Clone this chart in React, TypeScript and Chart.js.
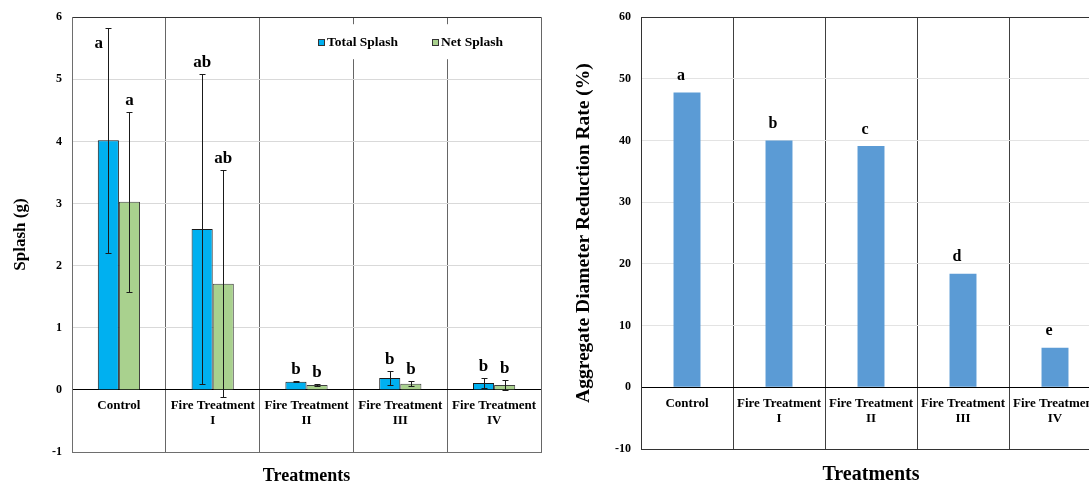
import React, { useEffect, useRef } from 'react';
import { Chart, registerables } from 'chart.js';

Chart.register(...registerables);

// ---------- data ----------
const CATEGORIES = [
  'Control',
  'Fire Treatment\nI',
  'Fire Treatment\nII',
  'Fire Treatment\nIII',
  'Fire Treatment\nIV',
];

const TOTAL_SPLASH = [4.02, 2.59, 0.13, 0.19, 0.11];
const TOTAL_SPLASH_ERR = [1.81, 2.5, 0.01, 0.11, 0.08];
const TOTAL_SPLASH_LETTERS = ['a', 'ab', 'b', 'b', 'b'];

const NET_SPLASH = [3.03, 1.71, 0.08, 0.1, 0.08];
const NET_SPLASH_ERR = [1.45, 1.83, 0.01, 0.04, 0.08];
const NET_SPLASH_LETTERS = ['a', 'ab', 'b', 'b', 'b'];

const SPLASH_AXIS = { min: -1, max: 6, step: 1 };

const REDUCTION_RATE = [47.8, 40.0, 39.1, 18.4, 6.4];
const REDUCTION_LETTERS = ['a', 'b', 'c', 'd', 'e'];

const REDUCTION_AXIS = { min: -10, max: 60, step: 10 };

// ---------- style ----------
const FONT = "'Liberation Serif', 'Times New Roman', serif";
const W = 1089;
const H = 484;

function drawCategoryLabels(chart: any, size: number, first: number, step: number) {
  const { ctx } = chart;
  const xs = chart.scales.x;
  const ys = chart.scales.y;
  const y0 = ys.getPixelForValue(0);
  ctx.save();
  ctx.font = `bold ${size}px ${FONT}`;
  ctx.fillStyle = '#000';
  ctx.textAlign = 'center';
  ctx.textBaseline = 'middle';
  (chart.data.labels as string[]).forEach((lab, i) => {
    const cx = xs.getPixelForValue(i);
    String(lab)
      .split('\n')
      .forEach((line, j) => ctx.fillText(line, cx, y0 + first + j * step));
  });
  ctx.restore();
}

function SplashChart() {
  const ref = useRef<HTMLCanvasElement>(null);
  useEffect(() => {
    const canvas = ref.current!;
    const errorAndLetters = {
      id: 'errorAndLetters',
      afterDatasetsDraw(chart: any) {
        const { ctx, chartArea } = chart;
        const ys = chart.scales.y;
        ctx.save();
        chart.data.datasets.forEach((ds: any, di: number) => {
          const meta = chart.getDatasetMeta(di);
          meta.data.forEach((bar: any, i: number) => {
            const v = ds.data[i];
            const e = ds.errors[i];
            const top = Math.round(ys.getPixelForValue(v + e)) + 0.5;
            const bot = Math.round(ys.getPixelForValue(v - e)) + 0.5;
            const x = Math.round(bar.x) + 0.5;
            ctx.strokeStyle = '#1a1a1a';
            ctx.lineWidth = 1;
            ctx.beginPath();
            ctx.moveTo(x, top);
            ctx.lineTo(x, bot);
            ctx.moveTo(x - 3, top);
            ctx.lineTo(x + 3, top);
            ctx.moveTo(x - 3, bot);
            ctx.lineTo(x + 3, bot);
            ctx.stroke();
            // significance letters
            ctx.font = `bold 17px ${FONT}`;
            ctx.fillStyle = '#000';
            ctx.textAlign = 'center';
            ctx.textBaseline = 'alphabetic';
            let lx = bar.x;
            let ly = top - 7.5;
            if (ly - 14 < chartArea.top + 4) {
              lx = bar.x - 9.5;
              ly = top + 19;
            }
            ctx.fillText(ds.letters[i], lx, ly);
          });
        });
        ctx.restore();
      },
    };
    const labelsAndLegend = {
      id: 'labelsAndLegend',
      afterDraw(chart: any) {
        drawCategoryLabels(chart, 13, 16, 15);
        const { ctx, chartArea } = chart;
        ctx.save();
        ctx.font = `bold 13.5px ${FONT}`;
        const items = chart.data.datasets.map((ds: any) => ({
          label: ds.label as string,
          color: ds.backgroundColor as string,
          w: ctx.measureText(ds.label).width,
        }));
        const box = 6;
        const gapBox = 3;
        const gapItem = 34;
        const total =
          items.reduce((s: number, it: any) => s + box + gapBox + it.w, 0) + gapItem * (items.length - 1);
        const endX = chartArea.right - 38;
        let x = endX - total;
        const cy = chartArea.top + 25;
        ctx.fillStyle = '#fff';
        ctx.fillRect(x - 10, chartArea.top + 7, total + 20, 35);
        items.forEach((it: any) => {
          const bx = Math.round(x) + 0.5;
          const by = Math.round(cy - box / 2) + 0.5;
          ctx.fillStyle = it.color;
          ctx.fillRect(bx, by, box, box);
          ctx.strokeStyle = '#333';
          ctx.lineWidth = 1;
          ctx.strokeRect(bx, by, box, box);
          ctx.fillStyle = '#000';
          ctx.textAlign = 'left';
          ctx.textBaseline = 'middle';
          ctx.fillText(it.label, x + box + gapBox, cy);
          x += box + gapBox + it.w + gapItem;
        });
        ctx.restore();
      },
    };

    const chart = new Chart(canvas, {
      type: 'bar',
      data: {
        labels: CATEGORIES,
        datasets: [
          {
            label: 'Total Splash',
            data: TOTAL_SPLASH,
            errors: TOTAL_SPLASH_ERR,
            letters: TOTAL_SPLASH_LETTERS,
            backgroundColor: '#00B0F0',
            borderColor: '#1a1a1a',
            borderWidth: 1,
          } as any,
          {
            label: 'Net Splash',
            data: NET_SPLASH,
            errors: NET_SPLASH_ERR,
            letters: NET_SPLASH_LETTERS,
            backgroundColor: '#A9D18E',
            borderColor: '#404040',
            borderWidth: 1,
          } as any,
        ],
      },
      options: {
        animation: false,
        responsive: false,
        devicePixelRatio: 1,
        layout: { padding: { left: 0, right: 9, top: 15, bottom: 0 } },
        datasets: { bar: { categoryPercentage: 0.45, barPercentage: 1.0 } },
        plugins: { legend: { display: false }, tooltip: { enabled: false } },
        scales: {
          x: {
            grid: { offset: true, color: '#666', lineWidth: 1, drawTicks: false },
            border: { color: '#6e6e6e' },
            ticks: { display: false },
            title: {
              display: true,
              text: 'Treatments',
              color: '#000',
              font: { family: FONT, size: 18, weight: 'bold', lineHeight: 1 },
              padding: { top: 0, bottom: -1 },
            },
            afterFit: (s: any) => {
              s.height = 32;
            },
          },
          y: {
            min: SPLASH_AXIS.min,
            max: SPLASH_AXIS.max,
            ticks: {
              stepSize: SPLASH_AXIS.step,
              padding: 10,
              color: '#000',
              font: { family: FONT, size: 12, weight: 'bold' },
            },
            grid: {
              drawTicks: false,
              color: (c: any) =>
                c.tick.value === 0
                  ? '#000'
                  : c.tick.value === SPLASH_AXIS.max
                  ? '#333'
                  : c.tick.value === SPLASH_AXIS.min
                  ? '#6e6e6e'
                  : '#d9d9d9',
            },
            border: { color: '#6e6e6e' },
            title: {
              display: true,
              text: 'Splash (g)',
              color: '#000',
              font: { family: FONT, size: 17, weight: 'bold' },
              padding: { top: 10, bottom: 0 },
            },
            afterFit: (s: any) => {
              s.width = 72;
            },
          },
        },
      } as any,
      plugins: [errorAndLetters, labelsAndLegend],
    });
    return () => chart.destroy();
  }, []);
  return <canvas ref={ref} width={550} height={H} style={{ width: 550, height: H, display: 'block' }} />;
}

function ReductionChart() {
  const ref = useRef<HTMLCanvasElement>(null);
  useEffect(() => {
    const canvas = ref.current!;
    const lettersAndLabels = {
      id: 'lettersAndLabels',
      afterDatasetsDraw(chart: any) {
        const { ctx } = chart;
        const meta = chart.getDatasetMeta(0);
        ctx.save();
        ctx.font = `bold 16px ${FONT}`;
        ctx.fillStyle = '#000';
        ctx.textAlign = 'center';
        ctx.textBaseline = 'alphabetic';
        meta.data.forEach((bar: any, i: number) => {
          ctx.fillText(REDUCTION_LETTERS[i], bar.x - 6, bar.y - 12.5);
        });
        ctx.restore();
      },
      afterDraw(chart: any) {
        drawCategoryLabels(chart, 13, 16, 15);
      },
    };
    const chart = new Chart(canvas, {
      type: 'bar',
      data: {
        labels: CATEGORIES,
        datasets: [
          {
            label: 'Aggregate Diameter Reduction Rate',
            data: REDUCTION_RATE,
            backgroundColor: '#5B9BD5',
            borderWidth: 0,
          },
        ],
      },
      options: {
        animation: false,
        responsive: false,
        devicePixelRatio: 1,
        layout: { padding: { left: 0, right: 19, top: 15, bottom: 0 } },
        datasets: { bar: { categoryPercentage: 0.293, barPercentage: 1.0 } },
        plugins: { legend: { display: false }, tooltip: { enabled: false } },
        scales: {
          x: {
            grid: { offset: true, color: '#404040', lineWidth: 1, drawTicks: false },
            border: { color: '#333' },
            ticks: { display: false },
            title: {
              display: true,
              text: 'Treatments',
              color: '#000',
              font: { family: FONT, size: 20, weight: 'bold', lineHeight: 1 },
              padding: { top: 0, bottom: -1 },
            },
            afterFit: (s: any) => {
              s.height = 35;
            },
          },
          y: {
            min: REDUCTION_AXIS.min,
            max: REDUCTION_AXIS.max,
            ticks: {
              stepSize: REDUCTION_AXIS.step,
              padding: 10,
              color: '#000',
              font: { family: FONT, size: 12, weight: 'bold' },
            },
            grid: {
              drawTicks: false,
              color: (c: any) =>
                c.tick.value === 0
                  ? '#000'
                  : c.tick.value === REDUCTION_AXIS.max || c.tick.value === REDUCTION_AXIS.min
                  ? '#333'
                  : '#e3e3e3',
            },
            border: { color: '#333' },
            title: {
              display: true,
              text: 'Aggregate Diameter Reduction Rate (%)',
              color: '#000',
              font: { family: FONT, size: 19.5, weight: 'bold' },
              padding: { top: 12, bottom: 0 },
            },
            afterFit: (s: any) => {
              s.width = 81;
            },
          },
        },
      } as any,
      plugins: [lettersAndLabels],
    });
    return () => chart.destroy();
  }, []);
  return <canvas ref={ref} width={560} height={H} style={{ width: 560, height: H, display: 'block' }} />;
}

export default function App() {
  return (
    <div
      style={{
        position: 'fixed',
        left: 0,
        top: 0,
        width: W,
        height: H,
        overflow: 'hidden',
        background: '#fff',
      }}
    >
      <div style={{ position: 'absolute', left: 0, top: 0 }}>
        <SplashChart />
      </div>
      <div style={{ position: 'absolute', left: 560, top: 0 }}>
        <ReductionChart />
      </div>
    </div>
  );
}
